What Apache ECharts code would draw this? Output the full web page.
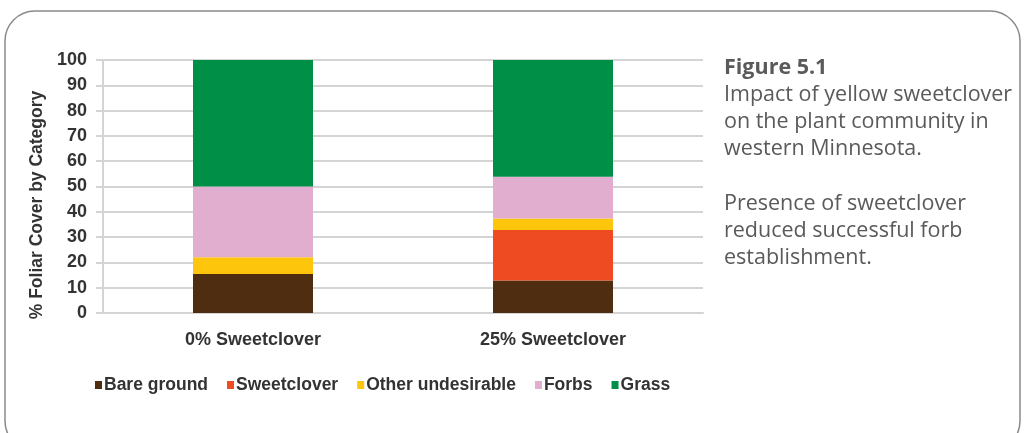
<!DOCTYPE html>
<html>
<head>
<meta charset="utf-8">
<script src="https://cdn.jsdelivr.net/npm/echarts@6/dist/echarts.min.js"></script>
<style>
html,body{margin:0;padding:0;background:#fff;}
#main{width:1024px;height:433px;}
</style>
</head>
<body>
<div id="main"></div>
<script>
var categories = ['0% Sweetclover', '25% Sweetclover'];
var seriesNames = ['Bare ground', 'Sweetclover', 'Other undesirable', 'Forbs', 'Grass'];
var bareGround = [15.4, 12.8];
var sweetclover = [0, 20];
var otherUndesirable = [6.6, 4.6];
var forbs = [28, 16.5];
var grass = [50, 46.1];
var colors = ['#4e2d11', '#ee4b23', '#fec50d', '#e2aed0', '#008f47'];

var values = [bareGround, sweetclover, otherUndesirable, forbs, grass];

var myChart = echarts.init(document.getElementById('main'));
var option = {
    animation: false,
    grid: {
        left: 103,
        right: 321,
        top: 60,
        bottom: 120
    },
    legend: {
        left: 90,
        top: 371,
        itemWidth: 7,
        itemHeight: 8,
        itemGap: 19,
        icon: 'rect',
        textStyle: {
            fontFamily: 'Liberation Sans',
            fontWeight: 'bold',
            fontSize: 17.5,
            color: '#333',
            padding: [0, 0, 0, -3]
        },
        data: seriesNames
    },
    xAxis: {
        type: 'category',
        data: categories,
        axisLine: {
            lineStyle: {color: '#d4d4d4', width: 2}
        },
        axisTick: {show: false},
        axisLabel: {
            margin: 18,
            fontFamily: 'Liberation Sans',
            fontWeight: 'bold',
            fontSize: 18,
            color: '#333'
        }
    },
    yAxis: {
        type: 'value',
        min: 0,
        max: 100,
        interval: 10,
        axisLine: {
            show: true,
            lineStyle: {color: '#d4d4d4', width: 2}
        },
        axisTick: {
            show: true,
            length: 7,
            lineStyle: {color: '#d4d4d4', width: 2}
        },
        splitLine: {
            lineStyle: {color: '#d4d4d4', width: 2}
        },
        axisLabel: {
            margin: 16,
            fontFamily: 'Liberation Sans',
            fontWeight: 'bold',
            fontSize: 18,
            color: '#333'
        }
    },
    series: seriesNames.map(function (name, i) {
        return {
            name: name,
            type: 'bar',
            stack: 'total',
            barWidth: 120,
            itemStyle: {color: colors[i]},
            data: values[i]
        };
    }),
    graphic: [
        {
            type: 'rect',
            shape: {x: 5, y: 11, width: 1015, height: 440, r: 30},
            style: {fill: 'none', stroke: '#8a8a8a', lineWidth: 1.5},
            silent: true
        },
        {
            type: 'text',
            x: 37,
            y: 205,
            rotation: Math.PI / 2,
            style: {
                text: '% Foliar Cover by Category',
                fontFamily: 'Liberation Sans',
                fontWeight: 'bold',
                fontSize: 17.5,
                fill: '#333',
                align: 'center',
                verticalAlign: 'middle'
            }
        },
        {
            type: 'text',
            x: 724,
            y: 54,
            style: {
                text: '{b|Figure 5.1}\nImpact of yellow sweetclover\non the plant community in\nwestern Minnesota.\n\nPresence of sweetclover\nreduced successful forb\nestablishment.',
                fontFamily: 'Open Sans',
                fontSize: 21.5,
                lineHeight: 27.2,
                fill: '#5a5a5a',
                rich: {
                    b: {
                        fontFamily: 'Open Sans',
                        fontWeight: 'bold',
                        fontSize: 21.5,
                        lineHeight: 27.2,
                        fill: '#5a5a5a'
                    }
                }
            }
        }
    ]
};
myChart.setOption(option);
</script>
</body>
</html>
